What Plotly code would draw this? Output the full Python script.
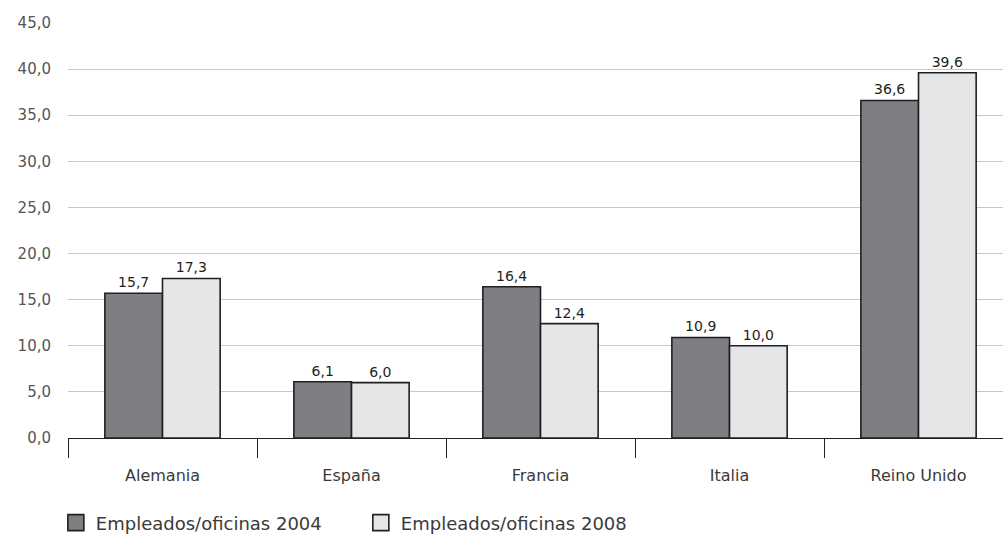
import plotly.graph_objects as go

paises = ["Alemania", "España", "Francia", "Italia", "Reino Unido"]
empleados_2004 = [15.7, 6.1, 16.4, 10.9, 36.6]
empleados_2008 = [17.3, 6.0, 12.4, 10.0, 39.6]
serie_nombres = ["Empleados/oficinas 2004", "Empleados/oficinas 2008"]
serie_colores = ["#7e7f83", "#e5e6e8"]


def etiqueta(v):
    return f"{v:.1f}".replace(".", ",")


FONT = "DejaVu Sans"
TEXT = "#3a3a3a"
EDGE = "#231f20"

fig = go.Figure()
for nombre, valores, color in zip(serie_nombres, [empleados_2004, empleados_2008], serie_colores):
    fig.add_trace(go.Bar(
        x=paises, y=valores, name=nombre, showlegend=False,
        marker=dict(color=color, line=dict(color=EDGE, width=1.6)),
        text=[etiqueta(v) for v in valores],
        textposition="outside", cliponaxis=False,
        textfont=dict(family=FONT, size=14, color=EDGE),
    ))

# legend entries with larger square swatches
for nombre, color in zip(serie_nombres, serie_colores):
    fig.add_trace(go.Scatter(
        x=[None], y=[None], mode="markers", name=nombre,
        marker=dict(symbol="square", size=20, color=color,
                    line=dict(color=EDGE, width=1.6)),
    ))

fig.update_layout(
    width=1003, height=537,
    margin=dict(l=68, r=0, t=23, b=99, autoexpand=False),
    paper_bgcolor="white", plot_bgcolor="white",
    barmode="group", bargap=0.39, bargroupgap=0,
    separators=",.",
    font=dict(family=FONT, size=14, color=TEXT),
    showlegend=True,
    legend=dict(orientation="h", x=-0.013, y=-0.16, xanchor="left", yanchor="top",
                font=dict(family=FONT, size=18, color=TEXT),
                itemsizing="trace", traceorder="normal",
                entrywidth=260, entrywidthmode="pixels"),
    xaxis=dict(
        range=[-0.5, 4.447], tickson="boundaries", ticks="outside",
        ticklen=19, tickcolor=EDGE, tickwidth=1,
        showline=True, linecolor=EDGE, linewidth=1,
        showgrid=False, ticklabelstandoff=23,
        tickfont=dict(family=FONT, size=16, color=TEXT),
    ),
    yaxis=dict(
        range=[0, 45], dtick=5, tickformat=".1f",
        showgrid=True, gridcolor="#c8c8c8", gridwidth=1,
        zeroline=False, showline=False, ticks="",
        ticklabelstandoff=16,
        tickfont=dict(family=FONT, size=15, color="#555555"),
    ),
)

fig.write_html("out.html")
